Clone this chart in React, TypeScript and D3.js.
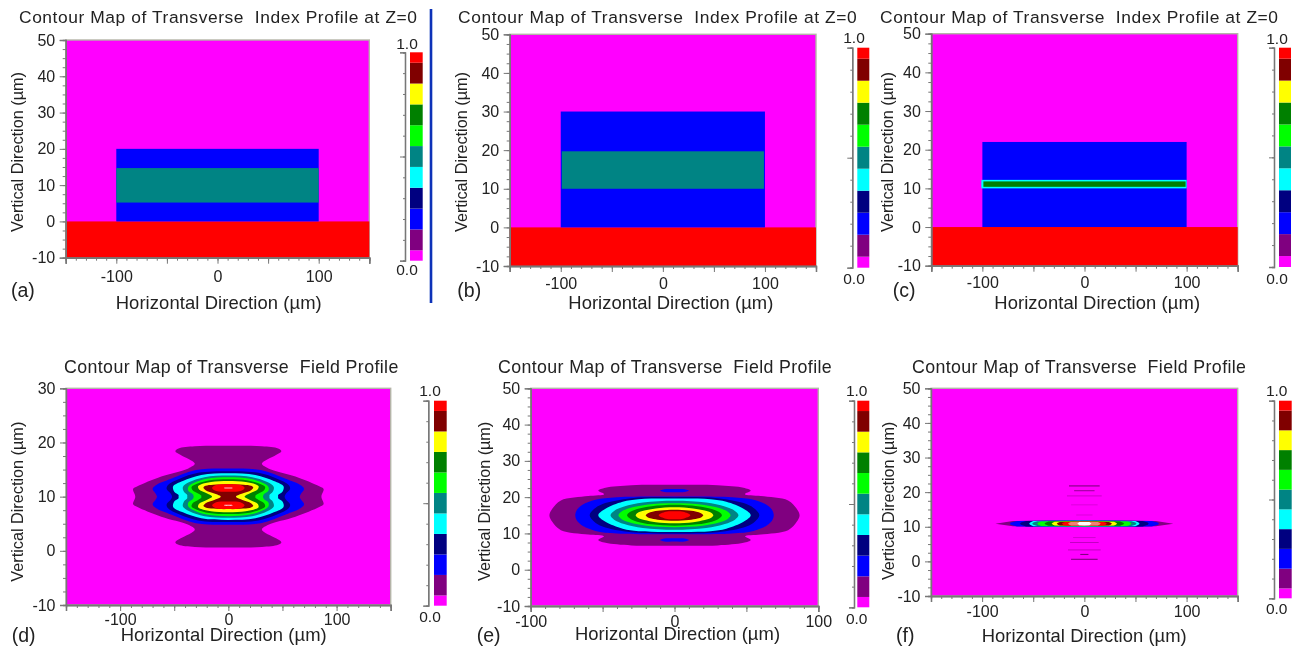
import { useEffect, useRef } from "react";
import * as d3 from "d3";

type Pt = [number, number];

// colour levels of the contour scale, low to high
const levelColors = ["#ff00ff", "#800080", "#0000ff", "#000080", "#00ffff", "#008484", "#00ff00", "#008000", "#ffff00", "#800000", "#ff0000"];
const levelEdges = [0, 0.05, 0.15, 0.25, 0.35, 0.45, 0.55, 0.65, 0.75, 0.85, 0.95, 1];

const MAG = 0, PUR = 1, BLU = 2, NAV = 3, CYA = 4, TEA = 5, LIM = 6, GRN = 7, YEL = 8, MAR = 9, RED = 10;

// index profile layers: level, x0, x1, y0, y1
const layersA = [[RED, -150, 150, -10, 0], [BLU, -100, 100, 0, 20], [TEA, -100, 100, 5.2, 14.7]];
const layersB = [[RED, -150, 150, -10, 0], [BLU, -100, 100, 0, 30], [TEA, -99, 99, 10, 19.7]];
const layersC = [[RED, -150, 150, -10, 0], [BLU, -100, 100, 0, 22], [CYA, -101, 100, 10, 12.2], [GRN, -99, 99, 10.4, 11.8]];

// field contours, one quadrant each, [dx, dy] from the centre
const fieldD: [number, Pt[]][] = [
  [PUR, [[0, 9.4], [31, 9.3], [46, 8.9], [49, 8.4], [44, 7.7], [31, 6.1], [37, 5.2], [62, 3.7], [84, 1.9], [88, 1.4], [86, 0]]],
  [BLU, [[0, 5.2], [30, 4.9], [53, 3.3], [67, 2.1], [70, 1.4], [67, 0.5], [66, 0]]],
  [NAV, [[0, 4.7], [28, 4.4], [45, 3.3], [56, 2.1], [57, 1.4], [53, 0.5], [52, 0]]],
  [CYA, [[0, 4.3], [25, 4.0], [42, 2.9], [51, 1.9], [50, 0.9], [46, 0.3], [46, 0]]],
  [TEA, [[0, 3.9], [22, 3.6], [36, 2.7], [42, 1.8], [41, 0.9], [38, 0.3], [38, 0]]],
  [LIM, [[0, 3.6], [20, 3.3], [32, 2.5], [37, 1.8], [37, 1.1], [33, 0.5], [32, 0]]],
  [GRN, [[0, 3.2], [18, 3.0], [29, 2.4], [34, 1.8], [33, 1.2], [28, 0.6], [25, 0.2], [25, 0]]],
  [YEL, [[0, 2.9], [16, 2.7], [25, 2.3], [28, 1.9], [27, 1.3], [21, 0.7], [16, 0.2], [15, 0]]],
  [MAR, [[0, 2.3], [14, 2.2], [21, 2.0], [23, 1.7], [21, 1.2], [13, 0.6], [8, 0.2], [7, 0]]],
];
const lobesD: [number, number, Pt[]][] = [
  [RED, 1.6, [[0, 0.7], [9, 0.65], [13, 0.4], [15, 0]]],
  [13, 1.6, [[0, 0.1], [3, 0.09], [4, 0]]],
];

const fieldE: [number, Pt[]][] = [
  [PUR, [[0, 8.4], [30, 8.3], [48, 7.6], [53, 6.8], [49, 5.8], [60, 5.3], [79, 4.1], [85, 1.8], [87, 0]]],
  [BLU, [[0, 5.2], [40, 5.0], [55, 4.3], [64, 2.9], [68, 1.4], [69, 0]]],
  [NAV, [[0, 5.0], [30, 4.7], [50, 3.1], [56, 1.7], [59, 0]]],
  [CYA, [[0, 4.6], [25, 4.4], [36, 3.7], [48, 1.8], [53, 0]]],
  [TEA, [[0, 4.0], [22, 3.5], [35, 2.4], [42, 1.2], [44.5, 0]]],
  [LIM, [[0, 3.3], [19.5, 2.9], [31, 2.0], [37, 1.0], [39, 0]]],
  [GRN, [[0, 2.9], [16, 2.5], [26, 1.75], [31, 0.9], [33, 0]]],
  [YEL, [[0, 2.2], [13, 1.9], [21, 1.3], [25.5, 0.7], [27, 0]]],
  [MAR, [[0, 1.5], [10, 1.3], [16, 0.9], [19, 0.45], [20, 0]]],
  [RED, [[0, 1.1], [6, 0.95], [11, 0]]],
];
const lobesE: [number, number, Pt[]][] = [
  [BLU, 6.8, [[0, 0.45], [7, 0.4], [10, 0]]],
];

const fieldF: [number, Pt[]][] = [
  [PUR, [[0, 1.0], [70, 0.75], [87, 0]]],
  [BLU, [[0, 1.0], [66, 0.8], [72, 0.3], [73, 0]]],
  [NAV, [[0, 0.95], [57, 0.8], [62, 0.3], [63, 0]]],
  [CYA, [[0, 0.9], [50, 0.75], [53, 0.3], [54, 0]]],
  [TEA, [[0, 0.8], [46, 0.7], [50, 0.3], [51, 0]]],
  [LIM, [[0, 0.75], [42, 0.65], [45, 0.3], [46, 0]]],
  [GRN, [[0, 0.7], [35, 0.6], [38, 0.25], [39, 0]]],
  [YEL, [[0, 0.65], [29, 0.55], [31, 0.25], [32, 0]]],
  [MAR, [[0, 0.6], [24, 0.5], [26, 0.25], [27, 0]]],
  [RED, [[0, 0.55], [19, 0.5], [21, 0.25], [22, 0]]],
  [12, [[0, 0.55], [13, 0.5], [15, 0.25], [16, 0]]],
  [11, [[0, 0.5], [5, 0.45], [6, 0.2], [7, 0]]],
];
// faint side fringes of panel f: y, half width, half thickness
const fringesF = [[21.8, 15, 0.16], [20.4, 10, 0.12], [18.9, 17, 0.06], [16.3, 13, 0.04], [13.4, 8, 0.04], [6.8, 11, 0.05], [5.5, 14, 0.07], [3.3, 16, 0.07], [2.0, 4, 0.16], [0.6, 13, 0.16]];

const titleIndex = "Contour Map of Transverse\u00a0\u00a0Index Profile at Z=0";
const titleField = "Contour Map of Transverse\u00a0\u00a0Field Profile";
const xTitle = "Horizontal Direction (\u00b5m)";
const yTitle = "Vertical Direction (\u00b5m)";

const xWide = { domain: [-150, 150], labelled: [-100, 0, 100], mid: [-150, -50, 50, 150] };
const xNarrow = { domain: [-100, 100], labelled: [-100, 0, 100], mid: [-50, 50] };
const y50 = { domain: [-10, 50], ticks: [-10, 0, 10, 20, 30, 40, 50] };
const y30 = { domain: [-10, 30], ticks: [-10, 0, 10, 20, 30] };

const panels = [
  { tag: "(a)", tagAt: [11, 296.7], xs: xWide, ys: y50, frame: [65.7, 369.3, 40, 257.7], pad: 7.3, layers: layersA,
    title: titleIndex, titleSize: 17.4, titleX: [19, 417, 22.7], xT: [115.7, 321.7, 309], yT: [23, 72, 232],
    bar: [410, 422.7, 52.3, 260.7, 405, 407, 43, 269] },
  { tag: "(b)", tagAt: [457.3, 296.7], xs: xWide, ys: y50, frame: [509.7, 816, 34.3, 266], pad: 5.3, layers: layersB,
    title: titleIndex, titleSize: 17.4, titleX: [458, 856.7, 22.7], xT: [568.3, 773.3, 309], yT: [466.7, 72, 232],
    bar: [857.3, 869.3, 47.7, 267.7, 852.3, 854, 37, 278] },
  { tag: "(c)", tagAt: [892.7, 296.7], xs: xWide, ys: y50, frame: [931.3, 1237.7, 33.7, 265.7], pad: 5.3, layers: layersC,
    title: titleIndex, titleSize: 17.4, titleX: [880, 1278, 22.7], xT: [994.3, 1200, 309], yT: [893.3, 72, 232],
    bar: [1279, 1291, 47.7, 267, 1274, 1277, 38, 278] },
  { tag: "(d)", tagAt: [11.7, 641.7], xs: xWide, ys: y30, frame: [66, 390.7, 388.3, 605], pad: 2.3, field: fieldD, lobes: lobesD, cy: 10,
    title: titleField, titleSize: 17.8, titleX: [64, 398.3, 372.7], xT: [120.7, 326.7, 640.7], yT: [23, 421.7, 581.7],
    bar: [434, 446.7, 400.7, 605.7, 428.3, 430, 390, 616.7] },
  { tag: "(e)", tagAt: [476.7, 641.7], xs: xNarrow, ys: y50, frame: [530.7, 818.3, 388.3, 606], pad: 4, field: fieldE, lobes: lobesE, cy: 15,
    title: titleField, titleSize: 17.8, titleX: [498, 831.7, 373], xT: [575, 780, 640], yT: [490, 421.7, 581],
    bar: [857.3, 869.3, 400.7, 607.3, 854, 856.7, 390, 618.3] },
  { tag: "(f)", tagAt: [896, 641.7], xs: xWide, ys: y50, frame: [931, 1237.7, 388.3, 596], pad: 4, field: fieldF, lobes: [], cy: 10.9, fringes: fringesF,
    title: titleField, titleSize: 17.8, titleX: [912, 1246, 373], xT: [981.7, 1186.7, 641.7], yT: [894, 421.7, 580],
    bar: [1279, 1291.7, 400.7, 598.3, 1274, 1276.7, 390.7, 608.3] },
];

const extraColors: Record<number, string> = { 11: "#ffffff", 12: "#f08078", 13: "#ffc0d0" };
const colorOf = (l: number) => levelColors[l] ?? extraColors[l];

// mirror one quadrant round the centre into a closed ring
function ring(q: Pt[]): Pt[] {
  const right = q.map(([x, y]) => [x, y] as Pt);
  const lowRight = q.slice(0, -1).reverse().map(([x, y]) => [x, -y] as Pt);
  const lowLeft = q.slice(1).map(([x, y]) => [-x, -y] as Pt);
  const upLeft = q.slice(1, -1).reverse().map(([x, y]) => [-x, y] as Pt);
  return [...right, ...lowRight, ...lowLeft, ...upLeft];
}

export default function App() {
  const svgRef = useRef<SVGSVGElement>(null);

  useEffect(() => {
    const svg = d3.select(svgRef.current);
    svg.selectAll("*").remove();

    const defs = svg.append("defs");
    defs.append("filter").attr("id", "soft").append("feGaussianBlur").attr("stdDeviation", 0.45);
    defs.append("filter").attr("id", "softer").append("feGaussianBlur").attr("stdDeviation", 0.3);

    const root = svg.append("g").attr("filter", "url(#softer)")
      .attr("font-family", "'Liberation Sans', Arial, sans-serif").attr("fill", "#222");

    // the blue rule between (a) and (b)
    root.append("line").attr("x1", 431).attr("x2", 431).attr("y1", 9).attr("y2", 303)
      .attr("stroke", "#0a32b8").attr("stroke-width", 2.6);

    panels.forEach((p: any) => {
      const [fx0, fx1, fyTop, fyBottom] = p.frame;
      const x = d3.scaleLinear().domain(p.xs.domain).range([fx0, fx1]);
      const y = d3.scaleLinear().domain(p.ys.domain).range([fyBottom, fyTop]);
      const g = root.append("g");

      // plot area
      const plot = g.append("g").attr("filter", "url(#soft)");
      plot.append("rect").attr("x", fx0).attr("y", fyTop).attr("width", fx1 - fx0).attr("height", fyBottom - fyTop)
        .attr("fill", levelColors[MAG]).attr("stroke", "#b4b4a8").attr("stroke-width", 1.4);

      (p.layers || []).forEach(([l, a, b, c, d]: number[]) => {
        plot.append("rect").attr("x", x(a)).attr("y", y(d)).attr("width", x(b) - x(a)).attr("height", y(c) - y(d))
          .attr("fill", colorOf(l));
      });

      const isThin = !!p.fringes;
      const line = d3.line<Pt>().x((d) => x(d[0])).y((d) => y(d[1]))
        .curve(isThin ? d3.curveLinearClosed : d3.curveCatmullRomClosed.alpha(0.5));
      const shape = (q: Pt[], cy: number) =>
        line(ring(q).map(([a, b]) => [a, b + cy] as Pt));

      (p.field || []).slice(0, 1).forEach(([l, q]: [number, Pt[]]) => {
        plot.append("path").attr("d", shape(q, p.cy)).attr("fill", colorOf(l));
      });
      (p.lobes || []).filter((o: any) => o[0] === BLU).forEach(([l, off, q]: [number, number, Pt[]]) => {
        [off, -off].forEach((s) => plot.append("path").attr("d", shape(q, p.cy + s)).attr("fill", colorOf(l)));
      });
      (p.field || []).slice(1).forEach(([l, q]: [number, Pt[]]) => {
        plot.append("path").attr("d", shape(q, p.cy)).attr("fill", colorOf(l));
      });
      (p.lobes || []).filter((o: any) => o[0] !== BLU).forEach(([l, off, q]: [number, number, Pt[]]) => {
        [off, -off].forEach((s) => plot.append("path").attr("d", shape(q, p.cy + s)).attr("fill", colorOf(l)));
      });
      (p.fringes || []).forEach(([fy, hw, ht]: number[]) => {
        plot.append("rect").attr("x", x(-hw)).attr("width", x(hw) - x(-hw))
          .attr("y", y(fy + ht)).attr("height", y(fy - ht) - y(fy + ht)).attr("fill", colorOf(PUR));
      });

      // axes
      const tickStyle = (a: any) => {
        a.select(".domain").attr("stroke", "#777").attr("stroke-width", 1.3);
        a.selectAll("line").attr("stroke", "#777").attr("stroke-width", 1);
        a.selectAll("text").attr("fill", "#222").attr("font-size", 16).attr("font-family", "'Liberation Sans', Arial, sans-serif");
      };
      const minorX = d3.range(p.xs.domain[0], p.xs.domain[1] + 1, 10);
      const minorY = d3.range(p.ys.domain[0], p.ys.domain[1] + 0.1, 2.5);
      const plain = (d: any) => String(d); // the picture has a hyphen, not a minus sign

      g.append("g").attr("transform", `translate(0,${fyBottom})`)
        .call(d3.axisBottom(x).tickValues(minorX).tickSize(3).tickFormat(() => "")).call(tickStyle);
      g.append("g").attr("transform", `translate(0,${fyBottom})`)
        .call(d3.axisBottom(x).tickValues(p.xs.mid).tickSize(6).tickFormat(() => "")).call(tickStyle);
      g.append("g").attr("transform", `translate(0,${fyBottom})`)
        .call(d3.axisBottom(x).tickValues(p.xs.labelled).tickSize(6).tickPadding(p.pad).tickFormat(plain)).call(tickStyle);

      g.append("g").attr("transform", `translate(${fx0},0)`)
        .call(d3.axisLeft(y).tickValues(minorY).tickSize(3).tickFormat(() => "")).call(tickStyle);
      g.append("g").attr("transform", `translate(${fx0},0)`)
        .call(d3.axisLeft(y).tickValues(p.ys.ticks).tickSize(6).tickPadding(4.5).tickFormat(plain)).call(tickStyle);

      // texts
      const [tx0, tx1, tb] = p.titleX;
      g.append("text").attr("x", tx0).attr("y", tb).attr("font-size", p.titleSize)
        .attr("textLength", tx1 - tx0).attr("lengthAdjust", "spacing").text(p.title);
      const [lx0, lx1, lb] = p.xT;
      g.append("text").attr("x", lx0).attr("y", lb).attr("font-size", 18.4)
        .attr("textLength", lx1 - lx0).attr("lengthAdjust", "spacing").text(xTitle);
      const [yb, y0, y1] = p.yT;
      g.append("text").attr("transform", `translate(${yb},${y1}) rotate(-90)`).attr("font-size", 16.3)
        .attr("textLength", y1 - y0).attr("lengthAdjust", "spacing").text(yTitle);
      g.append("text").attr("x", p.tagAt[0]).attr("y", p.tagAt[1]).attr("font-size", 19.5).text(p.tag);

      // colour bar
      const [bx0, bx1, bTop, bBottom, axisX, labelX, hiY, loY] = p.bar;
      const bar = d3.scaleLinear().domain([0, 1]).range([bBottom, bTop]);
      const barG = g.append("g").attr("filter", "url(#soft)");
      levelColors.forEach((c, i) => {
        barG.append("rect").attr("x", bx0).attr("width", bx1 - bx0)
          .attr("y", bar(levelEdges[i + 1])).attr("height", bar(levelEdges[i]) - bar(levelEdges[i + 1])).attr("fill", c);
      });
      g.append("g").attr("transform", `translate(${axisX},0)`)
        .call(d3.axisLeft(bar).tickValues(d3.range(0, 1.01, 0.1)).tickSize(2).tickFormat(() => "")).call(tickStyle);
      g.append("g").attr("transform", `translate(${axisX},0)`)
        .call(d3.axisLeft(bar).tickValues([0, 0.5, 1]).tickSize(5).tickFormat(() => "")).call(tickStyle);
      [[hiY, "1.0"], [loY, "0.0"]].forEach(([ly, s]) => {
        g.append("text").attr("x", labelX).attr("y", ly).attr("dy", "0.36em").attr("text-anchor", "middle")
          .attr("font-size", 15.5).text(s as string);
      });
    });
  }, []);

  return <svg ref={svgRef} width={1297} height={649} style={{ position: "absolute", left: 0, top: 0, background: "#fff" }} />;
}
